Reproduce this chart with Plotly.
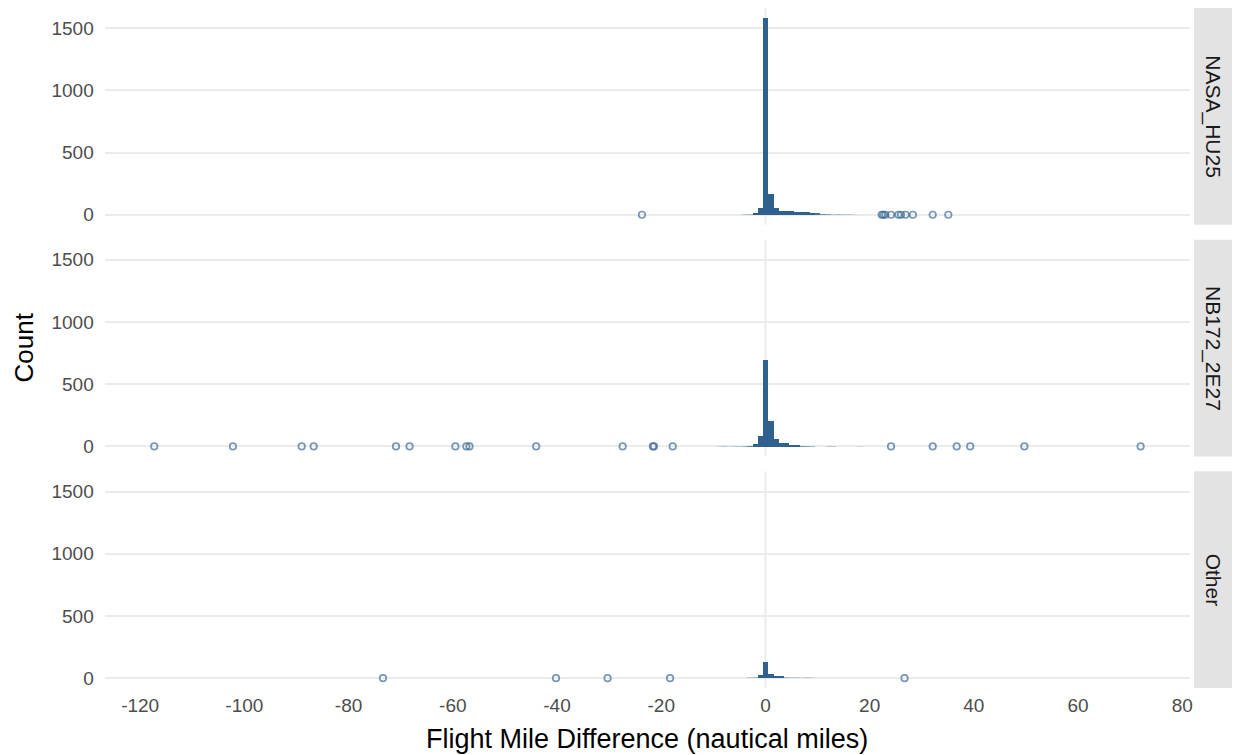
import plotly.graph_objects as go

# Histogram bins (width 1, centred on the integer) per aircraft group
nasa_bins = [-4, -3, -2, -1, 0, 1, 2, 3, 4, 5, 6, 7, 8, 9, 10, 11, 12, 13, 14, 15, 16, 17]
nasa_counts = [2, 3, 16, 56, 1583, 168, 56, 30, 29, 28, 22, 21, 20, 9, 7, 5, 4, 2, 3, 2, 2, 1]

nb172_bins = [-9, -8, -7, -6, -5, -4, -3, -2, -1, 0, 1, 2, 3, 4, 5, 6, 7, 8, 9, 12, 13, 18]
nb172_counts = [1, 2, 1, 2, 2, 3, 6, 22, 87, 697, 211, 59, 33, 31, 12, 10, 5, 4, 3, 2, 2, 1]

other_bins = [-3, -2, -1, 0, 1, 2, 3, 4, 5, 6, 7, 8, 9]
other_counts = [2, 3, 20, 127, 30, 14, 12, 3, 2, 2, 1, 2, 1]

# Outlying differences shown as points on the baseline
nasa_outliers = [-23.7, 22.3, 22.6, 23.0, 24.1, 25.5, 26.0, 26.9, 28.3, 32.1, 35.1]
nb172_outliers = [-117.3, -102.2, -89.0, -86.7, -70.9, -68.3, -59.5, -57.4, -56.8, -44.0,
                  -27.4, -21.6, -21.4, -17.8, 24.1, 32.1, 36.7, 39.3, 49.7, 72.0]
other_outliers = [-73.4, -40.2, -30.3, -18.3, 26.7]

groups = ["NASA_HU25", "NB172_2E27", "Other"]
x_ticks = [-120, -100, -80, -60, -40, -20, 0, 20, 40, 60, 80]
x_tick_text = ["-120", "-100", "-80", "-60", "-40", "-20", "0", "20", "40", "60", "80"]
y_ticks = [0, 500, 1000, 1500]
y_tick_text = ["0", "500", "1000", "1500"]

W, H = 1238, 755
BAR = "#2f618f"
PT = "rgba(47,97,143,0.65)"
GRID = "#ebebeb"
FONT = "Liberation Sans, Arial, sans-serif"
Y_RANGE = [-80, 1662]

# panel extents in pixels (top, bottom)
panels_px = [(8, 225), (240, 457), (472, 689)]
x_left, x_right = 105, 1193
strip_l, strip_r = 1197, 1235

fig = go.Figure()
data = [(nasa_bins, nasa_counts, nasa_outliers),
        (nb172_bins, nb172_counts, nb172_outliers),
        (other_bins, other_counts, other_outliers)]

for i, (bins, counts, outl) in enumerate(data):
    xa = "x" if i == 0 else f"x{i+1}"
    ya = "y" if i == 0 else f"y{i+1}"
    top, bot = panels_px[i]
    px_per_count = (bot - top) / (Y_RANGE[1] - Y_RANGE[0])
    # sub-pixel bars are drawn as 1px lines; fade them in proportion to their true height
    bar_opacity = [min(1.0, c * px_per_count) for c in counts]
    fig.add_trace(go.Bar(x=bins, y=counts, width=1,
                         marker=dict(color=BAR, line_width=0, opacity=bar_opacity),
                         xaxis=xa, yaxis=ya, showlegend=False))
    fig.add_trace(go.Scatter(x=outl, y=[0] * len(outl), mode="markers",
                             marker=dict(symbol="circle-open", size=6.5, color=PT,
                                         line=dict(width=1.7, color=PT)),
                             xaxis=xa, yaxis=ya, showlegend=False))

layout = dict(width=W, height=H, margin=dict(l=0, r=0, t=0, b=0),
              paper_bgcolor="white", plot_bgcolor="white",
              font=dict(family=FONT, color="#4d4d4d"), bargap=0)

shapes = []
annotations = []
for i, (top, bot) in enumerate(panels_px):
    sfx = "" if i == 0 else str(i + 1)
    y0 = 1 - bot / H
    y1 = 1 - top / H
    layout["xaxis" + sfx] = dict(
        domain=[x_left / W, x_right / W], range=[-126.8, 81.5], anchor="y" + sfx,
        tickvals=x_ticks, ticktext=x_tick_text, showgrid=False, zeroline=False,
        showline=False, showticklabels=(i == 2), ticks="",
        tickfont=dict(size=19, color="#4d4d4d"), ticklabelstandoff=4,
        matches=None if i == 0 else "x")
    layout["yaxis" + sfx] = dict(
        domain=[y0, y1], range=Y_RANGE, anchor="x" + sfx,
        tickvals=y_ticks, ticktext=y_tick_text, showgrid=True, gridcolor=GRID,
        gridwidth=1.6, zeroline=False, showline=False, ticks="",
        tickfont=dict(size=19, color="#4d4d4d"), ticklabelstandoff=10)
    # vertical reference line at zero difference
    shapes.append(dict(type="line", xref="x" + sfx, yref="y" + sfx + " domain",
                       x0=0, x1=0, y0=0, y1=1, layer="below",
                       line=dict(color=GRID, width=2)))
    # facet strip
    shapes.append(dict(type="rect", xref="paper", yref="paper",
                       x0=strip_l / W, x1=strip_r / W, y0=y0, y1=y1,
                       fillcolor="#e3e3e3", line=dict(width=0), layer="below"))
    annotations.append(dict(xref="paper", yref="paper",
                            x=(strip_l + strip_r) / 2 / W, y=(y0 + y1) / 2,
                            text=groups[i], textangle=90, showarrow=False,
                            font=dict(size=21, color="#1a1a1a", family=FONT),
                            xanchor="center", yanchor="middle"))

annotations.append(dict(xref="paper", yref="paper", x=(x_left + x_right) / 2 / W,
                        y=1 - 740 / H, text="Flight Mile Difference (nautical miles)",
                        showarrow=False, font=dict(size=27, color="black", family=FONT),
                        xanchor="center", yanchor="middle"))
annotations.append(dict(xref="paper", yref="paper", x=24 / W, y=1 - 348 / H,
                        text="Count", textangle=-90, showarrow=False,
                        font=dict(size=26, color="black", family=FONT),
                        xanchor="center", yanchor="middle"))

layout["shapes"] = shapes
layout["annotations"] = annotations
fig.update_layout(**layout)

fig.write_html("out.html")
